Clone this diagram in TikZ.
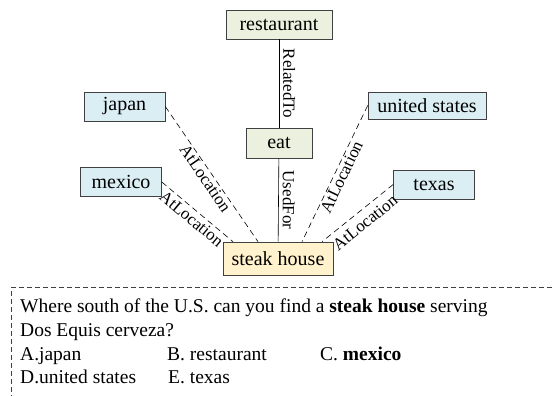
\documentclass[tikz,border=0pt]{standalone}
\usepackage{fontspec}
\setmainfont{Liberation Serif}
\usetikzlibrary{calc}
\definecolor{cgreen}{HTML}{EBF1DE}
\definecolor{cyellow}{HTML}{FFF2CC}
\definecolor{cblue}{HTML}{DBEEF4}
\definecolor{cborder}{HTML}{404040}
\tikzset{
  concept/.style={draw=cborder, semithick, inner xsep=4pt, minimum height=29pt, font=\fontsize{20}{22}\selectfont},
  relation/.style={font=\fontsize{17}{19}\selectfont, inner sep=1.5pt},
  atloc/.style={semithick, dash pattern=on 6pt off 4pt},
  qtext/.style={anchor=base west, inner sep=0, font=\fontsize{19.5}{22}\selectfont},
}
\begin{document}
\begin{tikzpicture}[x=1pt,y=-1pt]
\useasboundingbox (0,0) rectangle (552,396);
% concept nodes
\node[concept, fill=cgreen, minimum width=106pt] (restaurant) at (279,24.5) {restaurant};
\node[concept, fill=cgreen, minimum width=66pt, minimum height=30pt] (eat) at (279,143) {eat};
\node[concept, fill=cyellow, minimum width=110pt, minimum height=33pt] (steak) at (278,258.5) {steak house};
\node[concept, fill=cblue, minimum width=81pt] (japan) at (124.5,106.5) {japan};
\node[concept, fill=cblue, minimum width=81pt] (mexico) at (121,182) {mexico};
\node[concept, fill=cblue, minimum width=118pt, minimum height=27pt] (us) at (427,105.5) {united states};
\node[concept, fill=cblue, minimum width=81pt] (texas) at (434,184.5) {texas};
% end points on top of steak house
\coordinate (sj) at ($(steak.north)+(-20,0)$);
\coordinate (sm) at ($(steak.north)+(-45,0)$);
\coordinate (su) at ($(steak.north)+(24,0)$);
\coordinate (st) at ($(steak.north)+(44,0)$);
% solid relations
\draw[semithick] (restaurant) -- node[relation, inner sep=4pt, rotate=-90, anchor=south] {RelatedTo} (eat);
\draw[semithick] (eat) -- node[relation, inner sep=4pt, rotate=-90, anchor=south] {UsedFor} (steak);
% dashed relations
\draw[atloc] (japan.east) -- node[relation, sloped, below] {AtLocation} (sj);
\draw[atloc] (mexico.east) -- node[relation, sloped, below, inner sep=3pt] {AtLocation} (sm);
\draw[atloc] (us.west) -- node[relation, sloped, below] {AtLocation} (su);
\draw[atloc] (texas.west) -- node[relation, sloped, below, inner sep=6pt] {AtLocation} (st);
% question box
\draw[cborder, thin, dash pattern=on 5pt off 3pt] (11.5,400) -- (11.5,287) -- (560,287);
\node[qtext] (q1) at (20,312) {Where south of the U.S. can you find a \textbf{steak house} serving};
\node[qtext] (q2) at (20,336) {Dos Equis cerveza?};
\node[qtext] (oa) at (20,360) {A.japan};
\node[qtext] (ob) at (167,360) {B. restaurant};
\node[qtext] (oc) at (320,360) {C. \textbf{mexico}};
\node[qtext] (od) at (20,383) {D.united states};
\node[qtext] (oe) at (168,383) {E. texas};
\end{tikzpicture}
\end{document}
